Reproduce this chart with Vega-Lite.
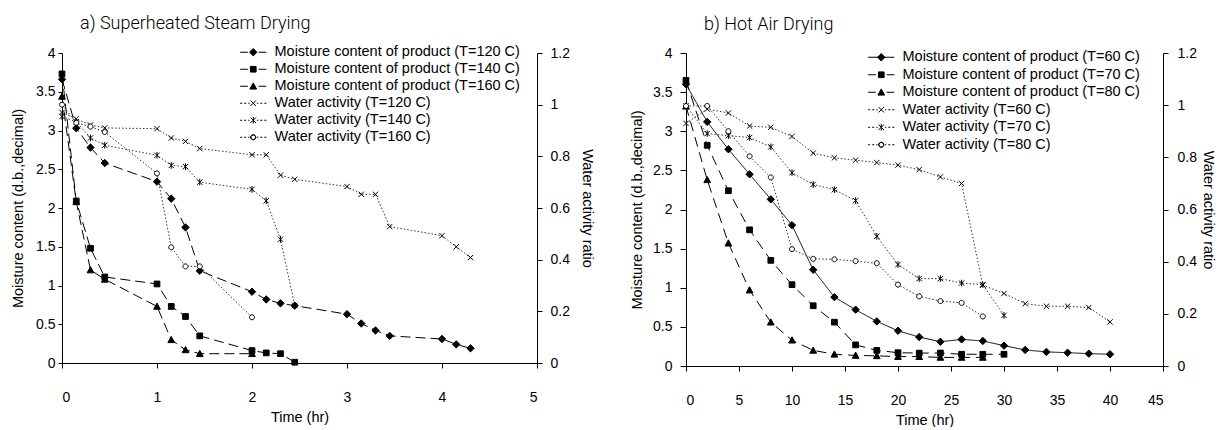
{
  "$schema": "https://vega.github.io/schema/vega-lite/v6.json",
  "background": "white",
  "padding": {"left": 10, "top": 15, "right": 0, "bottom": 0},
  "config": {
    "view": {"stroke": null},
    "font": "Liberation Sans",
    "axis": {"grid": false, "domainColor": "black", "tickColor": "black", "labelColor": "black", "titleColor": "black", "labelFont": "Liberation Sans", "titleFont": "Liberation Sans", "labelFontSize": 14, "titleFontSize": 14.5, "titleFontWeight": "normal", "domainWidth": 1, "tickWidth": 1}
  },
  "datasets": {
    "sh": [
      {"s":"M120","t":0,"v":3.66},{"s":"M120","t":0.15,"v":3.03},{"s":"M120","t":0.3,"v":2.78},{"s":"M120","t":0.45,"v":2.58},{"s":"M120","t":1,"v":2.34},{"s":"M120","t":1.15,"v":2.12},{"s":"M120","t":1.3,"v":1.75},{"s":"M120","t":1.45,"v":1.19},{"s":"M120","t":2,"v":0.92},{"s":"M120","t":2.15,"v":0.82},{"s":"M120","t":2.3,"v":0.77},{"s":"M120","t":2.45,"v":0.74},{"s":"M120","t":3,"v":0.63},{"s":"M120","t":3.15,"v":0.51},{"s":"M120","t":3.3,"v":0.42},{"s":"M120","t":3.45,"v":0.35},{"s":"M120","t":4,"v":0.31},{"s":"M120","t":4.15,"v":0.24},{"s":"M120","t":4.3,"v":0.19},
      {"s":"M140","t":0,"v":3.73},{"s":"M140","t":0.15,"v":2.09},{"s":"M140","t":0.3,"v":1.48},{"s":"M140","t":0.45,"v":1.11},{"s":"M140","t":1,"v":1.02},{"s":"M140","t":1.15,"v":0.73},{"s":"M140","t":1.3,"v":0.6},{"s":"M140","t":1.45,"v":0.35},{"s":"M140","t":2,"v":0.16},{"s":"M140","t":2.15,"v":0.13},{"s":"M140","t":2.3,"v":0.12},{"s":"M140","t":2.45,"v":0.01},
      {"s":"M160","t":0,"v":3.44},{"s":"M160","t":0.15,"v":2.08},{"s":"M160","t":0.3,"v":1.2},{"s":"M160","t":0.45,"v":1.08},{"s":"M160","t":1,"v":0.73},{"s":"M160","t":1.15,"v":0.3},{"s":"M160","t":1.3,"v":0.17},{"s":"M160","t":1.45,"v":0.12},{"s":"M160","t":2,"v":0.12},
      {"s":"W120","t":0,"v":0.97},{"s":"W120","t":0.15,"v":0.945},{"s":"W120","t":0.3,"v":0.921},{"s":"W120","t":0.45,"v":0.91},{"s":"W120","t":1,"v":0.907},{"s":"W120","t":1.15,"v":0.871},{"s":"W120","t":1.3,"v":0.858},{"s":"W120","t":1.45,"v":0.83},{"s":"W120","t":2,"v":0.806},{"s":"W120","t":2.15,"v":0.806},{"s":"W120","t":2.3,"v":0.727},{"s":"W120","t":2.45,"v":0.711},{"s":"W120","t":3,"v":0.683},{"s":"W120","t":3.15,"v":0.653},{"s":"W120","t":3.3,"v":0.653},{"s":"W120","t":3.45,"v":0.528},{"s":"W120","t":4,"v":0.493},{"s":"W120","t":4.15,"v":0.45},{"s":"W120","t":4.3,"v":0.408},
      {"s":"W140","t":0,"v":0.954},{"s":"W140","t":0.15,"v":0.934},{"s":"W140","t":0.3,"v":0.871},{"s":"W140","t":0.45,"v":0.843},{"s":"W140","t":1,"v":0.804},{"s":"W140","t":1.15,"v":0.765},{"s":"W140","t":1.3,"v":0.76},{"s":"W140","t":1.45,"v":0.7},{"s":"W140","t":2,"v":0.672},{"s":"W140","t":2.15,"v":0.628},{"s":"W140","t":2.3,"v":0.479},{"s":"W140","t":2.45,"v":0.223},
      {"s":"W160","t":0,"v":1.0},{"s":"W160","t":0.15,"v":0.93},{"s":"W160","t":0.3,"v":0.915},{"s":"W160","t":0.45,"v":0.894},{"s":"W160","t":1,"v":0.734},{"s":"W160","t":1.15,"v":0.448},{"s":"W160","t":1.3,"v":0.374},{"s":"W160","t":1.45,"v":0.374},{"s":"W160","t":2,"v":0.177}
    ],
    "ha": [
      {"s":"M60","t":0,"v":3.6},{"s":"M60","t":2,"v":3.12},{"s":"M60","t":4,"v":2.77},{"s":"M60","t":6,"v":2.45},{"s":"M60","t":8,"v":2.13},{"s":"M60","t":10,"v":1.8},{"s":"M60","t":12,"v":1.23},{"s":"M60","t":14,"v":0.88},{"s":"M60","t":16,"v":0.72},{"s":"M60","t":18,"v":0.57},{"s":"M60","t":20,"v":0.45},{"s":"M60","t":22,"v":0.37},{"s":"M60","t":24,"v":0.31},{"s":"M60","t":26,"v":0.34},{"s":"M60","t":28,"v":0.32},{"s":"M60","t":30,"v":0.26},{"s":"M60","t":32,"v":0.205},{"s":"M60","t":34,"v":0.18},{"s":"M60","t":36,"v":0.17},{"s":"M60","t":38,"v":0.158},{"s":"M60","t":40,"v":0.15},
      {"s":"M70","t":0,"v":3.65},{"s":"M70","t":2,"v":2.82},{"s":"M70","t":4,"v":2.24},{"s":"M70","t":6,"v":1.74},{"s":"M70","t":8,"v":1.35},{"s":"M70","t":10,"v":1.04},{"s":"M70","t":12,"v":0.77},{"s":"M70","t":14,"v":0.56},{"s":"M70","t":16,"v":0.27},{"s":"M70","t":18,"v":0.2},{"s":"M70","t":20,"v":0.17},{"s":"M70","t":22,"v":0.165},{"s":"M70","t":24,"v":0.166},{"s":"M70","t":26,"v":0.15},{"s":"M70","t":28,"v":0.15},{"s":"M70","t":30,"v":0.15},
      {"s":"M80","t":0,"v":3.32},{"s":"M80","t":2,"v":2.38},{"s":"M80","t":4,"v":1.57},{"s":"M80","t":6,"v":0.97},{"s":"M80","t":8,"v":0.56},{"s":"M80","t":10,"v":0.33},{"s":"M80","t":12,"v":0.2},{"s":"M80","t":14,"v":0.15},{"s":"M80","t":16,"v":0.135},{"s":"M80","t":18,"v":0.13},{"s":"M80","t":20,"v":0.12},{"s":"M80","t":22,"v":0.12},{"s":"M80","t":24,"v":0.11},{"s":"M80","t":26,"v":0.11},{"s":"M80","t":28,"v":0.11},
      {"s":"W60","t":0,"v":0.93},{"s":"W60","t":2,"v":0.985},{"s":"W60","t":4,"v":0.97},{"s":"W60","t":6,"v":0.92},{"s":"W60","t":8,"v":0.915},{"s":"W60","t":10,"v":0.88},{"s":"W60","t":12,"v":0.816},{"s":"W60","t":14,"v":0.798},{"s":"W60","t":16,"v":0.789},{"s":"W60","t":18,"v":0.78},{"s":"W60","t":20,"v":0.77},{"s":"W60","t":22,"v":0.753},{"s":"W60","t":24,"v":0.725},{"s":"W60","t":26,"v":0.7},{"s":"W60","t":28,"v":0.31},{"s":"W60","t":30,"v":0.278},{"s":"W60","t":32,"v":0.239},{"s":"W60","t":34,"v":0.229},{"s":"W60","t":36,"v":0.229},{"s":"W60","t":38,"v":0.224},{"s":"W60","t":40,"v":0.169},
      {"s":"W70","t":0,"v":0.997},{"s":"W70","t":2,"v":0.891},{"s":"W70","t":4,"v":0.883},{"s":"W70","t":6,"v":0.876},{"s":"W70","t":8,"v":0.84},{"s":"W70","t":10,"v":0.741},{"s":"W70","t":12,"v":0.696},{"s":"W70","t":14,"v":0.676},{"s":"W70","t":16,"v":0.634},{"s":"W70","t":18,"v":0.497},{"s":"W70","t":20,"v":0.389},{"s":"W70","t":22,"v":0.335},{"s":"W70","t":24,"v":0.335},{"s":"W70","t":26,"v":0.318},{"s":"W70","t":28,"v":0.312},{"s":"W70","t":30,"v":0.194},
      {"s":"W80","t":0,"v":0.997},{"s":"W80","t":2,"v":0.997},{"s":"W80","t":4,"v":0.9},{"s":"W80","t":6,"v":0.804},{"s":"W80","t":8,"v":0.723},{"s":"W80","t":10,"v":0.448},{"s":"W80","t":12,"v":0.411},{"s":"W80","t":14,"v":0.409},{"s":"W80","t":16,"v":0.402},{"s":"W80","t":18,"v":0.394},{"s":"W80","t":20,"v":0.312},{"s":"W80","t":22,"v":0.267},{"s":"W80","t":24,"v":0.249},{"s":"W80","t":26,"v":0.242},{"s":"W80","t":28,"v":0.19}
    ]
  },
  "spacing": 34,
  "resolve": {"scale": {"x": "independent", "y": "independent", "shape": "independent", "fill": "independent", "strokeDash": "independent"}, "legend": {"shape": "independent"}},
  "hconcat": [
    {
      "width": 475,
      "height": 310,
      "data": {"name": "sh"},
      "title": {"text": "a) Superheated Steam Drying", "anchor": "start", "dx": 18, "frame": "group", "baseline": "alphabetic", "offset": -2, "fontSize": 18, "font": "Roboto", "fontWeight": 300, "color": "black"},
      "encoding": {
        "x": {"field": "t", "type": "quantitative", "scale": {"domain": [0, 5], "nice": false}, "axis": {"values": [0,1,2,3,4,5], "format": "~g", "title": "Time (hr)", "tickSize": 5, "labelPadding": 22, "titlePadding": 6}}
      },
      "layer": [
        {
          "transform": [{"filter": "indexof(datum.s, 'M') === 0"}],
          "encoding": {"y": {"field": "v", "type": "quantitative", "scale": {"domain": [0, 4], "nice": false}, "axis": {"values": [0,0.5,1,1.5,2,2.5,3,3.5,4], "format": "~g", "tickSize": 4, "labelPadding": 3, "titlePadding": 10, "title": "Moisture content (d.b.,decimal)"}}},
          "layer": [
            {"mark": {"type": "line", "stroke": "black", "strokeWidth": 1, "strokeDash": [10, 5]}, "encoding": {"detail": {"field": "s"}}},
            {"mark": {"type": "point", "filled": true, "stroke": "black", "strokeWidth": 1, "opacity": 1, "size": 45},
             "encoding": {
               "fill": {"field": "s", "type": "nominal", "scale": {"domain": ["M120","M140","M160","W120","W140","W160"], "range": ["black","black","black","transparent","transparent","white"]}, "legend": null},
               "shape": {"field": "s", "type": "nominal", "scale": {"domain": ["M120","M140","M160","W120","W140","W160"], "range": ["M0,-1.1L1.1,0L0,1.1L-1.1,0Z","M-0.85,-0.85H0.85V0.85H-0.85Z","M0,-1L1,0.85H-1Z","M-0.8,-0.8L0.8,0.8M0.8,-0.8L-0.8,0.8","M-0.8,-0.8L0.8,0.8M0.8,-0.8L-0.8,0.8M0,-1L0,1","M0.75,0A0.75,0.75 0 1,1 -0.75,0A0.75,0.75 0 1,1 0.75,0Z"]}, "legend": null}
             }}
          ]
        },
        {
          "transform": [{"filter": "indexof(datum.s, 'W') === 0"}],
          "encoding": {"y": {"field": "v", "type": "quantitative", "scale": {"domain": [0, 1.2], "nice": false}, "axis": {"orient": "right", "values": [0,0.2,0.4,0.6,0.8,1,1.2], "format": "~g", "tickSize": 5, "labelPadding": 8, "titlePadding": 10, "title": "Water activity ratio"}}},
          "layer": [
            {"mark": {"type": "line", "stroke": "#333333", "strokeWidth": 1, "strokeDash": [1.5, 2]}, "encoding": {"detail": {"field": "s"}}},
            {"mark": {"type": "point", "filled": true, "stroke": "black", "strokeWidth": 1, "opacity": 1, "size": 45},
             "encoding": {
               "fill": {"field": "s", "type": "nominal", "scale": {"domain": ["M120","M140","M160","W120","W140","W160"], "range": ["black","black","black","transparent","transparent","white"]}, "legend": null},
               "shape": {"field": "s", "type": "nominal", "scale": {"domain": ["M120","M140","M160","W120","W140","W160"], "range": ["M0,-1.1L1.1,0L0,1.1L-1.1,0Z","M-0.85,-0.85H0.85V0.85H-0.85Z","M0,-1L1,0.85H-1Z","M-0.8,-0.8L0.8,0.8M0.8,-0.8L-0.8,0.8","M-0.8,-0.8L0.8,0.8M0.8,-0.8L-0.8,0.8M0,-1L0,1","M0.75,0A0.75,0.75 0 1,1 -0.75,0A0.75,0.75 0 1,1 0.75,0Z"]}, "legend": null}
             }}
          ]
        },
        {
          "mark": {"type": "point", "filled": true, "fill": "black", "stroke": "black", "strokeWidth": 1, "opacity": 0, "size": 45},
          "encoding": {
            "shape": {"field": "s", "type": "nominal",
              "scale": {"domain": ["M120","M140","M160","W120","W140","W160"], "range": ["M-3.9,0H-1.6M1.6,0H3.9M0,-1.1L1.1,0L0,1.1L-1.1,0Z","M-3.9,0H-1.6M1.6,0H3.9M-0.85,-0.85H0.85V0.85H-0.85Z","M-3.9,0H-1.6M1.6,0H3.9M0,-1L1,0.85H-1Z","M-3.9,0H-3.3M-2.7,0H-2.1M-1.5,0H-1.1M1.1,0H1.5M2.1,0H2.7M3.3,0H3.9M-0.8,-0.8L0.8,0.8M0.8,-0.8L-0.8,0.8","M-3.9,0H-3.3M-2.7,0H-2.1M-1.5,0H-1.1M1.1,0H1.5M2.1,0H2.7M3.3,0H3.9M-0.8,-0.8L0.8,0.8M0.8,-0.8L-0.8,0.8M0,-1L0,1","M-3.9,0H-3.3M-2.7,0H-2.1M-1.5,0H-1.1M1.1,0H1.5M2.1,0H2.7M3.3,0H3.9M0.75,0A0.75,0.75 0 1,1 -0.75,0A0.75,0.75 0 1,1 0.75,0ZM0.7,0A0.7,0.7 0 1,0 -0.7,0A0.7,0.7 0 1,0 0.7,0Z"]},
              "legend": {"title": null, "orient": "none", "legendX": 184, "legendY": -8, "padding": 0, "rowPadding": 2, "symbolSize": 45, "symbolOpacity": 1, "symbolStrokeWidth": 1, "labelOffset": 14, "labelFontSize": 14.5, "labelFont": "Liberation Sans", "labelColor": "black", "labelLimit": 400,
                "labelExpr": "['Moisture content of product (T=120 C)','Moisture content of product (T=140 C)','Moisture content of product (T=160 C)','Water activity (T=120 C)','Water activity (T=140 C)','Water activity (T=160 C)'][indexof(['M120','M140','M160','W120','W140','W160'], datum.value)]"}}
          }
        }
      ],
      "resolve": {"scale": {"y": "independent", "shape": "independent"}, "axis": {"y": "independent"}}
    },
    {
      "width": 477,
      "height": 313,
      "data": {"name": "ha"},
      "title": {"text": "b) Hot Air Drying", "anchor": "start", "dx": 18, "frame": "group", "baseline": "alphabetic", "offset": -2, "fontSize": 18, "font": "Roboto", "fontWeight": 300, "color": "black"},
      "encoding": {
        "x": {"field": "t", "type": "quantitative", "scale": {"domain": [0, 45], "nice": false}, "axis": {"values": [0,5,10,15,20,25,30,35,40,45], "format": "~g", "title": "Time (hr)", "tickSize": 5, "labelPadding": 22, "titlePadding": 6}}
      },
      "layer": [
        {
          "transform": [{"filter": "indexof(datum.s, 'M') === 0"}],
          "encoding": {"y": {"field": "v", "type": "quantitative", "scale": {"domain": [0, 4], "nice": false}, "axis": {"values": [0,0.5,1,1.5,2,2.5,3,3.5,4], "format": "~g", "tickSize": 6, "labelPadding": 8, "titlePadding": 8, "title": "Moisture content (d.b.,decimal)"}}},
          "layer": [
            {"mark": {"type": "line", "stroke": "black", "strokeWidth": 1},
             "encoding": {"strokeDash": {"field": "s", "type": "nominal", "scale": {"domain": ["M60","M70","M80"], "range": [[1,0],[10,6],[10,6]]}, "legend": null}}},
            {"mark": {"type": "point", "filled": true, "stroke": "black", "strokeWidth": 1, "opacity": 1, "size": 45},
             "encoding": {
               "fill": {"field": "s", "type": "nominal", "scale": {"domain": ["M60","M70","M80","W60","W70","W80"], "range": ["black","black","black","transparent","transparent","white"]}, "legend": null},
               "shape": {"field": "s", "type": "nominal", "scale": {"domain": ["M60","M70","M80","W60","W70","W80"], "range": ["M0,-1.1L1.1,0L0,1.1L-1.1,0Z","M-0.85,-0.85H0.85V0.85H-0.85Z","M0,-1L1,0.85H-1Z","M-0.8,-0.8L0.8,0.8M0.8,-0.8L-0.8,0.8","M-0.8,-0.8L0.8,0.8M0.8,-0.8L-0.8,0.8M0,-1L0,1","M0.75,0A0.75,0.75 0 1,1 -0.75,0A0.75,0.75 0 1,1 0.75,0Z"]}, "legend": null}
             }}
          ]
        },
        {
          "transform": [{"filter": "indexof(datum.s, 'W') === 0"}],
          "encoding": {"y": {"field": "v", "type": "quantitative", "scale": {"domain": [0, 1.2], "nice": false}, "axis": {"orient": "right", "values": [0,0.2,0.4,0.6,0.8,1,1.2], "format": "~g", "tickSize": 5, "labelPadding": 9, "titlePadding": 4, "title": "Water activity ratio"}}},
          "layer": [
            {"mark": {"type": "line", "stroke": "#333333", "strokeWidth": 1, "strokeDash": [1.5, 2]}, "encoding": {"detail": {"field": "s"}}},
            {"mark": {"type": "point", "filled": true, "stroke": "black", "strokeWidth": 1, "opacity": 1, "size": 45},
             "encoding": {
               "fill": {"field": "s", "type": "nominal", "scale": {"domain": ["M60","M70","M80","W60","W70","W80"], "range": ["black","black","black","transparent","transparent","white"]}, "legend": null},
               "shape": {"field": "s", "type": "nominal", "scale": {"domain": ["M60","M70","M80","W60","W70","W80"], "range": ["M0,-1.1L1.1,0L0,1.1L-1.1,0Z","M-0.85,-0.85H0.85V0.85H-0.85Z","M0,-1L1,0.85H-1Z","M-0.8,-0.8L0.8,0.8M0.8,-0.8L-0.8,0.8","M-0.8,-0.8L0.8,0.8M0.8,-0.8L-0.8,0.8M0,-1L0,1","M0.75,0A0.75,0.75 0 1,1 -0.75,0A0.75,0.75 0 1,1 0.75,0Z"]}, "legend": null}
             }}
          ]
        },
        {
          "mark": {"type": "point", "filled": true, "fill": "black", "stroke": "black", "strokeWidth": 1, "opacity": 0, "size": 45},
          "encoding": {
            "shape": {"field": "s", "type": "nominal",
              "scale": {"domain": ["M60","M70","M80","W60","W70","W80"], "range": ["M-3.9,0H3.9M0,-1.1L1.1,0L0,1.1L-1.1,0Z","M-3.9,0H-1.6M1.6,0H3.9M-0.85,-0.85H0.85V0.85H-0.85Z","M-3.9,0H-1.6M1.6,0H3.9M0,-1L1,0.85H-1Z","M-3.9,0H-3.3M-2.7,0H-2.1M-1.5,0H-1.1M1.1,0H1.5M2.1,0H2.7M3.3,0H3.9M-0.8,-0.8L0.8,0.8M0.8,-0.8L-0.8,0.8","M-3.9,0H-3.3M-2.7,0H-2.1M-1.5,0H-1.1M1.1,0H1.5M2.1,0H2.7M3.3,0H3.9M-0.8,-0.8L0.8,0.8M0.8,-0.8L-0.8,0.8M0,-1L0,1","M-3.9,0H-3.3M-2.7,0H-2.1M-1.5,0H-1.1M1.1,0H1.5M2.1,0H2.7M3.3,0H3.9M0.75,0A0.75,0.75 0 1,1 -0.75,0A0.75,0.75 0 1,1 0.75,0ZM0.7,0A0.7,0.7 0 1,0 -0.7,0A0.7,0.7 0 1,0 0.7,0Z"]},
              "legend": {"title": null, "orient": "none", "legendX": 188, "legendY": -3, "padding": 0, "rowPadding": 2.5, "symbolSize": 45, "symbolOpacity": 1, "symbolStrokeWidth": 1, "labelOffset": 14, "labelFontSize": 14.5, "labelFont": "Liberation Sans", "labelColor": "black", "labelLimit": 400,
                "labelExpr": "['Moisture content of product (T=60 C)','Moisture content of product (T=70 C)','Moisture content of product (T=80 C)','Water activity (T=60 C)','Water activity (T=70 C)','Water activity (T=80 C)'][indexof(['M60','M70','M80','W60','W70','W80'], datum.value)]"}}
          }
        }
      ],
      "resolve": {"scale": {"y": "independent", "shape": "independent"}, "axis": {"y": "independent"}}
    }
  ]
}
